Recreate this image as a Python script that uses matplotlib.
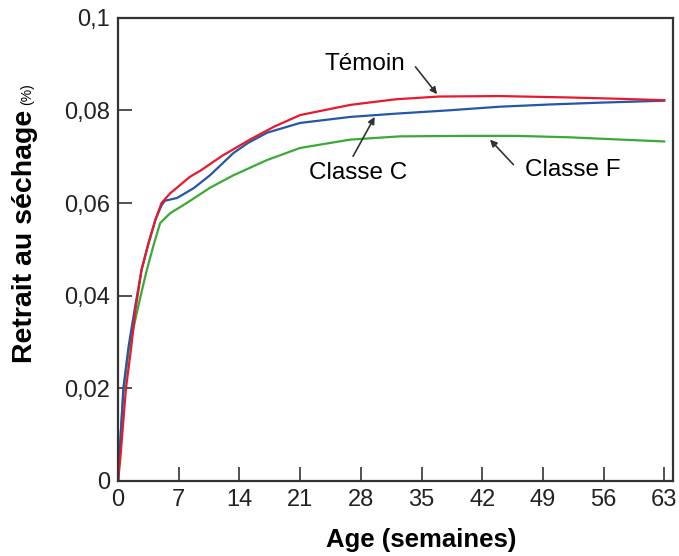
import matplotlib
matplotlib.use("Agg")
import matplotlib.pyplot as plt

plt.rcParams["font.family"] = ["Liberation Sans", "DejaVu Sans"]

# retrait au séchage (%) vs age (semaines)
temoin_x = [0, 0.3, 0.6, 0.9, 1.45, 2.0, 2.7, 3.5, 4.3, 5.0, 6.0, 8.3, 9.5, 12, 15.2, 18, 21,
            26.8, 32, 37, 44, 52, 58, 63]
temoin_y = [0, 0.006, 0.013, 0.020, 0.028, 0.037, 0.0456, 0.0513, 0.0564, 0.0600, 0.0621, 0.0657,
            0.0670, 0.0702, 0.0737, 0.0765, 0.0790, 0.0812, 0.0824, 0.0830, 0.0831, 0.0828,
            0.0825, 0.0822]

classe_c_x = [0, 0.2, 0.6, 1.2, 1.9, 2.7, 3.5, 4.3, 5.0, 5.4, 6.8, 8.7, 10.6, 13.3, 15, 17.2, 21,
              26.8, 32, 38, 44, 50, 56, 63]
classe_c_y = [0, 0.007, 0.020, 0.029, 0.037, 0.0456, 0.0513, 0.0564, 0.0595, 0.0605, 0.0611,
              0.0632, 0.0660, 0.0708, 0.0730, 0.0752, 0.0773, 0.0786, 0.0793, 0.0800, 0.0808,
              0.0813, 0.0817, 0.0821]

classe_f_x = [0, 0.2, 0.6, 1.2, 2.0, 2.6, 3.3, 4.1, 4.85, 6.0, 7.9, 10.6, 13.3, 17.2, 21, 26.8,
              32.5, 40, 46, 52, 58, 63]
classe_f_y = [0, 0.007, 0.019, 0.028, 0.035, 0.040, 0.0455, 0.0510, 0.0557, 0.0578, 0.0600,
              0.0633, 0.0660, 0.0693, 0.0719, 0.0737, 0.0744, 0.0745, 0.0745, 0.0742, 0.0737,
              0.0733]

x_ticks = [0, 7, 14, 21, 28, 35, 42, 49, 56, 63]
y_ticks = [0, 0.02, 0.04, 0.06, 0.08, 0.1]
y_labels = ["0", "0,02", "0,04", "0,06", "0,08", "0,1"]

fig = plt.figure(figsize=(6.79, 5.56), dpi=100)
ax = fig.add_axes([0.174, 0.135, 0.817, 0.833])

ax.plot(classe_f_x, classe_f_y, color="#3aaa35", lw=1.6)
ax.plot(classe_c_x, classe_c_y, color="#2358a8", lw=1.6)
ax.plot(temoin_x, temoin_y, color="#e8192c", lw=1.6)

ax.set_xlim(0, 64)
ax.set_ylim(0, 0.1)
ax.set_xticks(x_ticks)
ax.set_yticks(y_ticks)
ax.set_yticklabels(y_labels)
ax.tick_params(direction="in", length=10, width=1.2, color="#333333",
               labelsize=17, labelcolor="#222222", pad=6)
for s in ax.spines.values():
    s.set_linewidth(1.6)
    s.set_color("#333333")

# axis titles placed by hand (the original is off-centre)
ax.text(0.546, -0.102, "Age (semaines)", transform=ax.transAxes,
        ha="center", va="top", fontsize=18.5, fontweight="bold")
ax.text(-0.168, 0.255, "Retrait au séchage", transform=ax.transAxes, rotation=90,
        ha="center", va="bottom", fontsize=20.5, fontweight="bold")
ax.text(-0.164, 0.812, "(%)", transform=ax.transAxes, rotation=90,
        ha="center", va="bottom", fontsize=10)

arrow = dict(arrowstyle="-|>", color="#333333", lw=1.2, mutation_scale=10,
             shrinkA=0, shrinkB=0)
ax.annotate("Témoin", xy=(36.8, 0.0835), xytext=(28.5, 0.0901), fontsize=17.5,
            ha="center", va="center")
ax.annotate("", xy=(36.8, 0.0835), xytext=(34.3, 0.0894), arrowprops=arrow)
ax.annotate("Classe C", xy=(29.6, 0.0786), xytext=(27.7, 0.0665), fontsize=17.5,
            ha="center", va="center")
ax.annotate("", xy=(29.6, 0.0786), xytext=(27.1, 0.0701), arrowprops=arrow)
ax.annotate("Classe F", xy=(42.9, 0.0737), xytext=(52.5, 0.0672), fontsize=17.5,
            ha="center", va="center")
ax.annotate("", xy=(42.9, 0.0737), xytext=(45.6, 0.0683), arrowprops=arrow)

fig.savefig("out.png", dpi=100)
